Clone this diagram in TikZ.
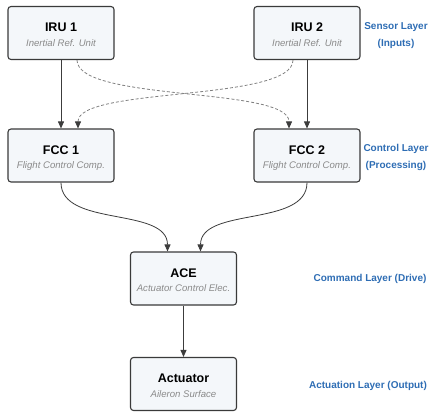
\documentclass[tikz,border=0pt]{standalone}
\usepackage{fontspec}
\setmainfont{Liberation Sans}
\usetikzlibrary{arrows.meta,calc}
\definecolor{boxfill}{HTML}{F4F7FA}
\definecolor{boxdraw}{HTML}{3A3A3A}
\definecolor{subgray}{HTML}{8A8A8A}
\definecolor{layerblue}{HTML}{2E6DB4}
\definecolor{linegray}{HTML}{3C3C3C}
\tikzset{
  unit/.style={draw=boxdraw, fill=boxfill, line width=1.1pt, rounded corners=3pt,
    minimum width=106pt, minimum height=53pt, inner sep=0pt},
  ttl/.style={anchor=base, inner sep=0pt, font=\bfseries\fontsize{12.5}{14}\selectfont},
  sub/.style={anchor=base, inner sep=0pt, text=subgray, font=\itshape\fontsize{9.6}{11}\selectfont},
  layer/.style={text=layerblue, font=\bfseries\fontsize{10}{17}\selectfont, align=center, inner sep=0pt},
  flow/.style={draw=linegray, line width=0.8pt, -{Triangle[width=6pt,length=7pt]}},
  cross/.style={draw=gray, line width=0.8pt, dash pattern=on 3pt off 2pt,
    -{Triangle[width=6pt,length=7pt,color=linegray]}}
}
\begin{document}
\begin{tikzpicture}[x=1pt,y=-1pt]
\useasboundingbox (0,0) rectangle (430,414);
\node[unit] (iru1) at (61,33) {};
\node[unit] (iru2) at (307,33) {};
\node[unit] (fcc1) at (61,155.5) {};
\node[unit] (fcc2) at (307,155.5) {};
\node[unit] (ace) at (183.5,278.5) {};
\node[unit] (act) at (183.5,384) {};
\foreach \n/\t/\s in {iru1/IRU 1/Inertial Ref. Unit, iru2/IRU 2/Inertial Ref. Unit,
  fcc1/FCC 1/Flight Control Comp., fcc2/FCC 2/Flight Control Comp.,
  ace/ACE/Actuator Control Elec., act/Actuator/Aileron Surface}{
  \node[ttl] (\n-t) at ($(\n.center)+(0,-1.5)$) {\t};
  \node[sub] (\n-s) at ($(\n.center)+(0,13.3)$) {\s};
}
\node[layer] (l1) at (396,35.5) {Sensor Layer\\(Inputs)};
\node[layer] (l2) at (396,157) {Control Layer\\(Processing)};
\node[layer] (l3) at (370,279) {Command Layer (Drive)};
\node[layer] (l4) at (368,386) {Actuation Layer (Output)};
\coordinate (a1) at ($(iru1.south)+(16,0)$);
\coordinate (b1) at ($(fcc2.north)+(-18,0)$);
\coordinate (a2) at ($(iru2.south)+(-14,0)$);
\coordinate (b2) at ($(fcc1.north)+(17,0)$);
\coordinate (c1) at ($(ace.north)+(-16,0)$);
\coordinate (c2) at ($(ace.north)+(17,0)$);
\draw[flow] (iru1.south) -- (fcc1.north);
\draw[flow] (iru2.south) -- (fcc2.north);
\draw[cross] (a1) .. controls ($(a1)+(0,42)$) and ($(b1)+(0,-42)$) .. (b1);
\draw[cross] (a2) .. controls ($(a2)+(0,42)$) and ($(b2)+(0,-42)$) .. (b2);
\draw[flow] (fcc1.south) .. controls ($(fcc1.south)+(0,45)$) and ($(c1)+(0,-45)$) .. (c1);
\draw[flow] (fcc2.south) .. controls ($(fcc2.south)+(0,45)$) and ($(c2)+(0,-45)$) .. (c2);
\draw[flow] (ace.south) -- (act.north);
\end{tikzpicture}
\end{document}
